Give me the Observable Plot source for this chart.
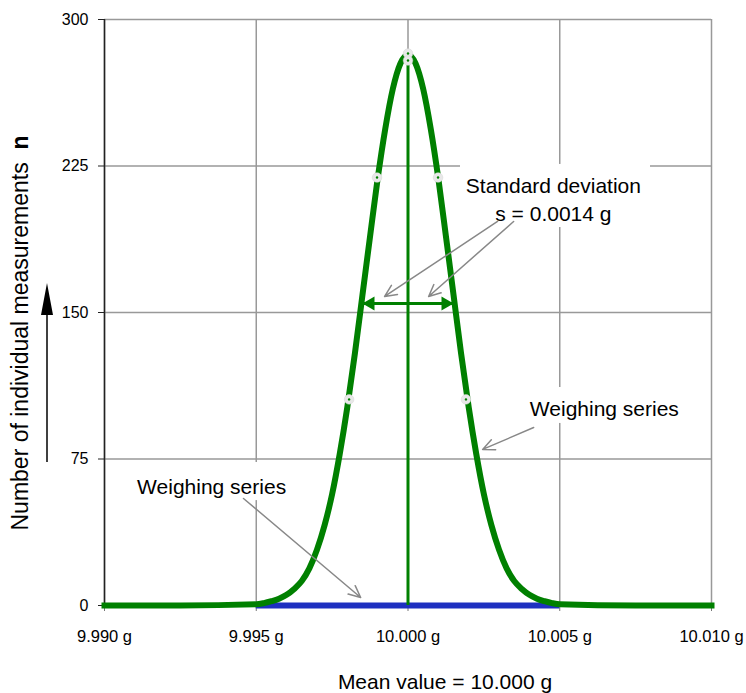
<!DOCTYPE html>
<html><head><meta charset="utf-8">
<script src="https://cdn.jsdelivr.net/npm/d3@7"></script>
<script src="https://cdn.jsdelivr.net/npm/@observablehq/plot@0.6"></script>
<style>body{margin:0;background:#fff;font-family:"Liberation Sans",Arial,sans-serif}</style>
</head><body><div id="chart"></div>
<script>
// ---- data ----
const xTicks = [9.990, 9.995, 10.000, 10.005, 10.010];
const yTicks = [0, 75, 150, 225, 300];

// Weighing series distribution curve (mass in g, count n)
const curveMass = [9.990, 9.9925, 9.995, 9.99525, 9.9955, 9.99575, 9.996, 9.99625, 9.9965, 9.99675, 9.997, 9.99725, 9.9975, 9.99775, 9.998, 9.99825, 9.9985, 9.99875, 9.999, 9.99925, 9.9995, 9.99975,
  10.000,
  10.00025, 10.0005, 10.00075, 10.001, 10.00125, 10.0015, 10.00175, 10.002, 10.00225, 10.0025, 10.00275, 10.003, 10.00325, 10.0035, 10.00375, 10.004, 10.00425, 10.0045, 10.00475, 10.005, 10.0075, 10.010];
const curveCount = [0, 0, 0.6, 1.2, 2.2, 3.5, 5.5, 8.5, 12.5, 19.0, 28.5, 41, 57, 77.5, 101.5, 129, 159, 189, 218.5, 244, 264.5, 277.5,
  282,
  277.5, 264.5, 244, 218.5, 189, 159, 129, 101.5, 77.5, 57, 41, 28.5, 19.0, 12.5, 8.5, 5.5, 3.5, 2.2, 1.2, 0.6, 0, 0];

// Mean value and peak
const meanValue = 10.000;
const peakCount = 282;
// Standard deviation span marker
const sdSpan = [9.9985, 10.0015];
const sdLevel = 154.6;
// Base line of the weighing series (blue)
const baseSpan = [9.995, 10.005];

// Sample markers on the curve
const markerMass = [10.000, 10.000, 9.99898, 10.00099, 9.99806, 10.00191];
const markerCount = [282.6, 279.0, 219.1, 219.1, 105.5, 105.5];

// Annotation labels
const labelText = ["Standard deviation\ns = 0.0014 g", "Weighing series", "Weighing series"];
const labelMass = [10.00479, 10.00647, 9.99353];
const labelCount = [208.8, 101.6, 61.6];
// Label backgrounds [x1, x2, y1, y2]
const boxX1 = [10.00173, 10.00381, 9.99092];
const boxX2 = [10.00799, 10.00921, 9.99616];
const boxY1 = [193.5, 93.2, 53.7];
const boxY2 = [225.8, 111.6, 73.2];
// Pointer arrows
const arrowX1 = [10.00295, 10.00348, 10.00414, 9.99458];
const arrowY1 = [196.6, 196.6, 91.1, 54.8];
const arrowX2 = [9.99923, 10.00068, 10.00246, 9.99844];
const arrowY2 = [158.2, 158.2, 79.9, 4.1];

const xLabel = "Mean value = 10.000 g";
const yLabel = "Number of individual measurements  ";
const yLabelBold = "n";

// ---- build tables ----
const curve = curveMass.map((m, i) => ({m, n: curveCount[i]}));
const markers = markerMass.map((m, i) => ({m, n: markerCount[i]}));
const labels = labelText.map((t, i) => ({t, m: labelMass[i], n: labelCount[i]}));
const boxes = boxX1.map((x1, i) => ({x1, x2: boxX2[i], y1: boxY1[i], y2: boxY2[i]}));
const arrows = arrowX1.map((x1, i) => ({x1, y1: arrowY1[i], x2: arrowX2[i], y2: arrowY2[i]}));

const green = "#008000";
const blue = "#1e30c0";

const plot = Plot.plot({
  width: 746, height: 693,
  marginLeft: 104, marginRight: 35, marginTop: 19, marginBottom: 88,
  x: {domain: [9.990, 10.010]},
  y: {domain: [0, 300]},
  style: {fontFamily: "'Liberation Sans', Arial, sans-serif", fontSize: "16px", color: "#000", background: "#fff", overflow: "visible"},
  marks: [
    Plot.gridX(xTicks, {stroke: "#999", strokeOpacity: 1, strokeWidth: 1.5}),
    Plot.gridY(yTicks, {stroke: "#999", strokeOpacity: 1, strokeWidth: 1.5}),
    Plot.rect(boxes, {x1: "x1", x2: "x2", y1: "y1", y2: "y2", fill: "white"}),
    Plot.ruleX([9.990], {stroke: "#222", strokeWidth: 1.5}),
    Plot.axisY(yTicks, {tickSize: 6, tickPadding: 10, stroke: "#222", fill: "#000", label: null, fontSize: 16}),
    Plot.axisX(xTicks, {tickSize: 6, tickPadding: 19, stroke: "#777", fill: "#000", label: null, fontSize: 16.5,
      tickFormat: d => d.toFixed(3) + " g"}),
    Plot.ruleY([0], {x1: baseSpan[0], x2: baseSpan[1], stroke: blue, strokeWidth: 6}),
    Plot.line(curve, {x: "m", y: "n", stroke: green, strokeWidth: 6, curve: "monotone-x", strokeLinecap: "square"}),
    Plot.ruleX([meanValue], {y1: 0, y2: peakCount, stroke: green, strokeWidth: 3}),
    Plot.ruleY([sdLevel], {x1: sdSpan[0], x2: sdSpan[1], stroke: green, strokeWidth: 3}),
    Plot.dot([{m: sdSpan[0], n: sdLevel}], {x: "m", y: "n", symbol: "triangle", rotate: -90, r: 5.2, fill: green, dx: 8}),
    Plot.dot([{m: sdSpan[1], n: sdLevel}], {x: "m", y: "n", symbol: "triangle", rotate: 90, r: 5.2, fill: green, dx: -8}),
    Plot.dot(markers, {x: "m", y: "n", r: 4.8, fill: "#e8e8e8", stroke: "#d4d4d4", strokeWidth: 0.5}),
    Plot.dot(markers, {x: "m", y: "n", r: 1.2, fill: green}),
    Plot.arrow(arrows, {x1: "x1", y1: "y1", x2: "x2", y2: "y2", stroke: "#888", strokeWidth: 1.5, headLength: 13, headAngle: 50}),
    Plot.text(labels, {x: "m", y: "n", text: "t", fontSize: 21, fill: "#000", lineHeight: 1.35, textAnchor: "middle"})
  ]
});

const svg = d3.select(plot);
svg.append("text")
  .attr("x", 445).attr("y", 689)
  .attr("text-anchor", "middle")
  .attr("font-size", 21)
  .attr("fill", "#000")
  .text(xLabel);

const yl = svg.append("text")
  .attr("transform", "translate(28,333) rotate(-90)")
  .attr("text-anchor", "middle")
  .attr("font-size", 23)
  .attr("fill", "#000");
yl.append("tspan").style("white-space", "pre").text(yLabel);
yl.append("tspan").attr("font-weight", "bold").text(yLabelBold);

// upward arrow next to the y label
svg.append("line").attr("x1", 47).attr("x2", 47).attr("y1", 462).attr("y2", 305)
  .attr("stroke", "#000").attr("stroke-width", 1.5);
svg.append("path").attr("d", "M47,283 L41,315 L53,315 Z").attr("fill", "#000");

document.getElementById("chart").appendChild(plot);
</script>
</body></html>
